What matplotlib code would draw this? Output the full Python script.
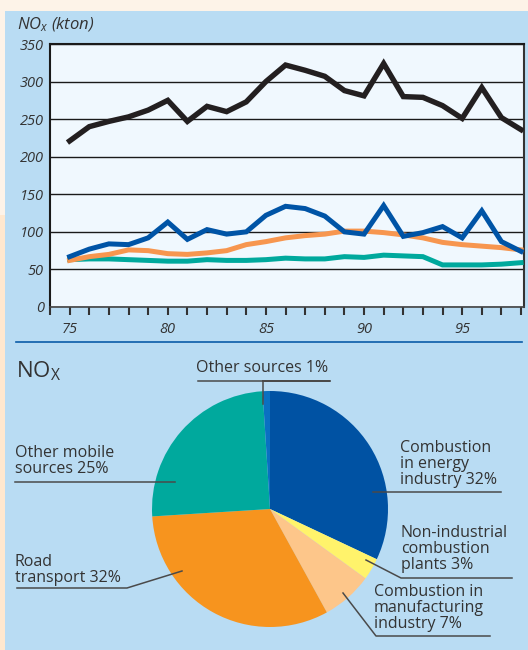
import matplotlib.pyplot as plt
from matplotlib.lines import Line2D
from matplotlib.patches import Rectangle
from matplotlib.transforms import Affine2D

# NOx emissions (kton), 1975-1998
years = list(range(75, 99))
total = [221, 240, 247, 253, 262, 275, 247, 267, 260, 273, 300, 322, 315, 307,
         288, 281, 324, 280, 279, 268, 251, 292, 252, 236]
energy = [67, 77, 84, 83, 92, 113, 90, 103, 97, 100, 122, 134, 131, 121,
          100, 97, 135, 94, 99, 107, 92, 128, 87, 74]
road = [62, 67, 70, 76, 75, 71, 70, 72, 75, 83, 87, 92, 95, 97,
        101, 101, 99, 96, 92, 86, 83, 81, 79, 76]
other_mobile = [63, 64, 64, 63, 62, 61, 61, 63, 62, 62, 63, 65, 64, 64,
                67, 66, 69, 68, 67, 56, 56, 56, 57, 59]

# NOx shares by source
pie_labels = ["Combustion\nin energy\nindustry 32%",
              "Non-industrial\ncombustion\nplants 3%",
              "Combustion in\nmanufacturing\nindustry 7%",
              "Road\ntransport 32%",
              "Other mobile\nsources 25%",
              "Other sources 1%"]
pie_shares = [32, 3, 7, 32, 25, 1]
pie_colors = ["#0052A3", "#FFF36B", "#FDC68A", "#F7941E", "#00A99D", "#0A70C2"]

plt.rcParams['font.family'] = ['Open Sans', 'DejaVu Sans']
plt.rcParams['mathtext.fontset'] = 'custom'
plt.rcParams['mathtext.it'] = 'Open Sans:italic'
plt.rcParams['mathtext.rm'] = 'Open Sans'

W, H = 528, 650
fig = plt.figure(figsize=(W / 100, H / 100), dpi=100)
fig.patch.set_facecolor('#FDF3E8')
px = Affine2D().scale(1 / W, -1 / H).translate(0, 1) + fig.transFigure   # pixel coords, y down

txt = '#333333'
fig.add_artist(Rectangle((0, 215), 5, 435, transform=px, facecolor='#FFE8CF', lw=0, zorder=-2))
fig.add_artist(Rectangle((5, 11), 523, 639, transform=px, facecolor='#B9DCF3', lw=0, zorder=-1))

# ---- line chart
ax = fig.add_axes([50 / W, 1 - 307 / H, 474 / W, 263 / H])
ax.set_facecolor('#F0F8FE')
ax.plot(years, other_mobile, color='#00A99D', lw=3.6, solid_joinstyle='miter', zorder=3)
ax.plot(years, road, color='#F7964F', lw=3.6, solid_joinstyle='miter', zorder=4)
ax.plot(years, energy, color='#0054A6', lw=3.6, solid_joinstyle='miter', zorder=5)
ax.plot(years, total, color='#231F20', lw=3.9, solid_joinstyle='miter', zorder=6)

ax.set_xlim(74, 98.15)
ax.set_ylim(0, 350)
ax.set_yticks(range(0, 351, 50))
ax.yaxis.grid(True, color='#1a1a1a', lw=1)
ax.set_axisbelow(True)
ax.set_xticks(range(75, 99, 5))
ax.set_xticks(range(74, 99), minor=True)
ax.tick_params(axis='y', length=0, pad=4.5, labelsize=10.5, labelcolor=txt)
ax.tick_params(axis='x', which='both', direction='out', length=6, width=1.5,
               color='#333333', pad=5, labelsize=10.5, labelcolor=txt)
for lab in ax.get_xticklabels() + ax.get_yticklabels():
    lab.set_fontstyle('italic')
for side in ['left', 'top']:
    ax.spines[side].set_linewidth(1.5)
    ax.spines[side].set_color('#1a1a1a')
ax.spines['right'].set_linewidth(1.5)
ax.spines['right'].set_color('#333333')
ax.spines['bottom'].set_linewidth(1.2)
ax.spines['bottom'].set_color('#444444')

fig.text(17, 25, '$NO_x$ (kton)', transform=px, fontsize=12, style='italic',
         color=txt, va='center')

# separator
fig.add_artist(Line2D([16, 522], [342, 342], transform=px, color='#0A5CA8', lw=1.2))

# ---- pie chart
cx, cy, r = 270, 509, 118
pax = fig.add_axes([(cx - r) / W, 1 - (cy + r) / H, 2 * r / W, 2 * r / H])
pax.pie(pie_shares, colors=pie_colors, startangle=90, counterclock=False,
        wedgeprops=dict(linewidth=0))
pax.set_xlim(-1, 1)
pax.set_ylim(-1, 1)
pax.set_aspect('auto')
pax.axis('off')

fig.text(16, 371, r'NO$_\mathrm{X}$', transform=px, fontsize=16, color=txt, va='center')

# labels: (left x, cap top y), leader polyline
label_pos = [(400, 440), (401, 525), (374, 584), (15, 554), (15, 445), (196, 360)]
leaders = [
    [(501, 492), (373, 492)],
    [(512, 578), (401, 578), (366, 560)],
    [(490, 636), (376, 636), (343, 593)],
    [(17, 588), (127, 588), (182, 571)],
    [(15, 482), (175, 482)],
    [(198, 381), (330, 381), (263, 381), (263, 404)],
]
for lab, (x, y), pts in zip(pie_labels, label_pos, leaders):
    fig.text(x, y, lab, transform=px, fontsize=11.5, color=txt, va='top',
             linespacing=1.0)
    xs, ys = zip(*pts)
    fig.add_artist(Line2D(xs, ys, transform=px, color='#4a4a4a', lw=1.1, zorder=5))

fig.savefig('out.png', dpi=100, facecolor=fig.get_facecolor())
